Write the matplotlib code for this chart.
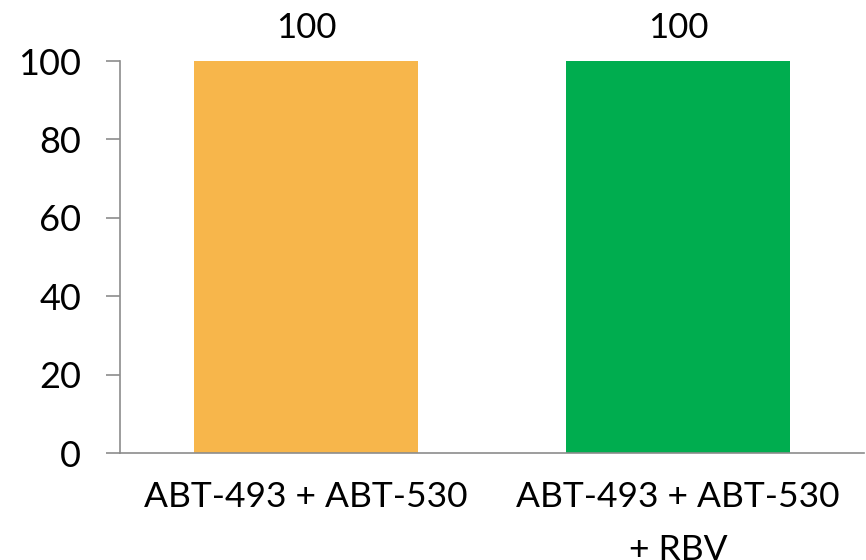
import matplotlib
matplotlib.use('Agg')
import matplotlib.pyplot as plt

# Chart data
categories = ['ABT-493 + ABT-530', 'ABT-493 + ABT-530\n+ RBV']
values = [100, 100]
bar_colors = ['#F7B64B', '#00AD4F']
y_ticks = [0, 20, 40, 60, 80, 100]

plt.rcParams['font.family'] = ['Lato', 'DejaVu Sans']

fig = plt.figure(figsize=(8.66, 5.60), dpi=100)
ax = fig.add_axes([0.1386, 0.191, 0.859, 0.700])

x = range(len(categories))
bars = ax.bar(x, values, width=0.6, color=bar_colors, zorder=2)

for b, v in zip(bars, values):
    ax.annotate('%d' % v, (b.get_x() + b.get_width() / 2, v),
                xytext=(0, 12), textcoords='offset points',
                ha='center', va='bottom', fontsize=25)

ax.set_xlim(-0.5, 1.5)
ax.set_ylim(0, 100)
ax.set_yticks(y_ticks)
ax.set_xticks(list(x))
ax.set_xticklabels(categories, linespacing=1.8)

for side in ['top', 'right']:
    ax.spines[side].set_visible(False)
for side in ['left', 'bottom']:
    ax.spines[side].set_color('#8C8C8C')
    ax.spines[side].set_linewidth(1.2)
ax.spines['bottom'].set_bounds(-0.5, 1.5)

ax.tick_params(axis='y', length=10, width=1.2, color='#8C8C8C',
               labelsize=26, pad=18)
ax.tick_params(axis='x', length=0, labelsize=25.5, pad=20)

fig.savefig('out.png', dpi=100)
